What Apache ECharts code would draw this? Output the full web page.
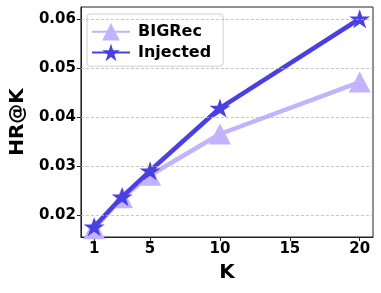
<!DOCTYPE html>
<html><head><meta charset="utf-8">
<script src="https://cdn.jsdelivr.net/npm/echarts@6/dist/echarts.min.js"></script>
<style>html,body{margin:0;padding:0;background:#fff}#c{width:381px;height:293px}</style>
</head><body><div id="c"></div>
<script>
const kValues = [1, 3, 5, 10, 20];
const bigrec = [0.0172, 0.0235, 0.0281, 0.0365, 0.0471];
const injected = [0.0176, 0.0237, 0.0290, 0.0418, 0.0600];
const xTicks = [1, 5, 10, 15, 20];
const yTicks = [0.02, 0.03, 0.04, 0.05, 0.06];
const seriesNames = ['BIGRec', 'Injected'];

const FONT = 'DejaVu Sans';
const starPath = 'path://M1,0 L0.7755,0.691 L0.0489,0.691 L0.6367,1.118 L0.4122,1.809 L1,1.382 L1.5878,1.809 L1.3633,1.118 L1.9511,0.691 L1.2245,0.691 Z';
const cBig = '#c1b3fd';
const cInj = '#4a40e2';

const chart = echarts.init(document.getElementById('c'), null, {renderer: 'canvas'});
chart.setOption({
  animation: false,
  backgroundColor: '#fff',
  grid: {left: 78, right: 8, top: 7, bottom: 56, show: true, borderColor: '#222', borderWidth: 1, backgroundColor: 'transparent'},
  legend: {
    left: 87, top: 14, orient: 'vertical', itemGap: 3,
    itemWidth: 38, itemHeight: 22,
    padding: [9, 12, 5, 4],
    borderColor: '#d0d0d0', borderWidth: 1, borderRadius: 3,
    backgroundColor: '#ffffff',
    textStyle: {fontFamily: FONT, fontWeight: 'bold', fontSize: 16, color: '#000', padding: [0,0,0,3]},
    data: seriesNames
  },
  xAxis: {
    type: 'value', min: 0.05, max: 20.95,
    name: 'K', nameLocation: 'middle', nameGap: 26,
    nameTextStyle: {fontFamily: FONT, fontWeight: 'bold', fontSize: 20, color: '#000'},
    axisLine: {lineStyle: {color: '#222', width: 1}},
    axisTick: {show: true, length: 4, customValues: xTicks, lineStyle: {color: '#222'}},
    axisLabel: {customValues: xTicks, margin: 5, fontFamily: FONT, fontWeight: 'bold', fontSize: 15, color: '#000'},
    splitLine: {show: false}
  },
  yAxis: {
    type: 'value', min: 0.0155, max: 0.0624,
    name: 'HR@K', nameLocation: 'middle', nameGap: 52,
    nameTextStyle: {fontFamily: FONT, fontWeight: 'bold', fontSize: 20, color: '#000'},
    axisLine: {show: true, lineStyle: {color: '#222', width: 1}},
    axisTick: {show: true, length: 4, customValues: yTicks, lineStyle: {color: '#222'}},
    axisLabel: {customValues: yTicks, margin: 5, fontFamily: FONT, fontWeight: 'bold', fontSize: 15, color: '#000',
      formatter: v => v.toFixed(2)},
    splitLine: {show: false}
  },
  series: [
    {
      name: 'grid', type: 'line', data: [], z: 1, silent: true,
      markLine: {silent: true, symbol: 'none', label: {show: false},
        lineStyle: {type: [3, 2], color: '#b8b8b8', width: 0.8},
        data: yTicks.map(v => ({yAxis: v}))}
    },
    {
      name: seriesNames[0], type: 'line', z: 3,
      data: kValues.map((k, i) => [k, bigrec[i]]),
      symbol: 'triangle', symbolSize: [22, 21],
      lineStyle: {color: cBig, width: 4.5},
      itemStyle: {color: cBig}
    },
    {
      name: seriesNames[1], type: 'line', z: 4,
      data: kValues.map((k, i) => [k, injected[i]]),
      symbol: starPath, symbolSize: [21, 20], symbolKeepAspect: true,
      lineStyle: {color: cInj, width: 4.5},
      itemStyle: {color: cInj}
    }
  ]
});
</script></body></html>
